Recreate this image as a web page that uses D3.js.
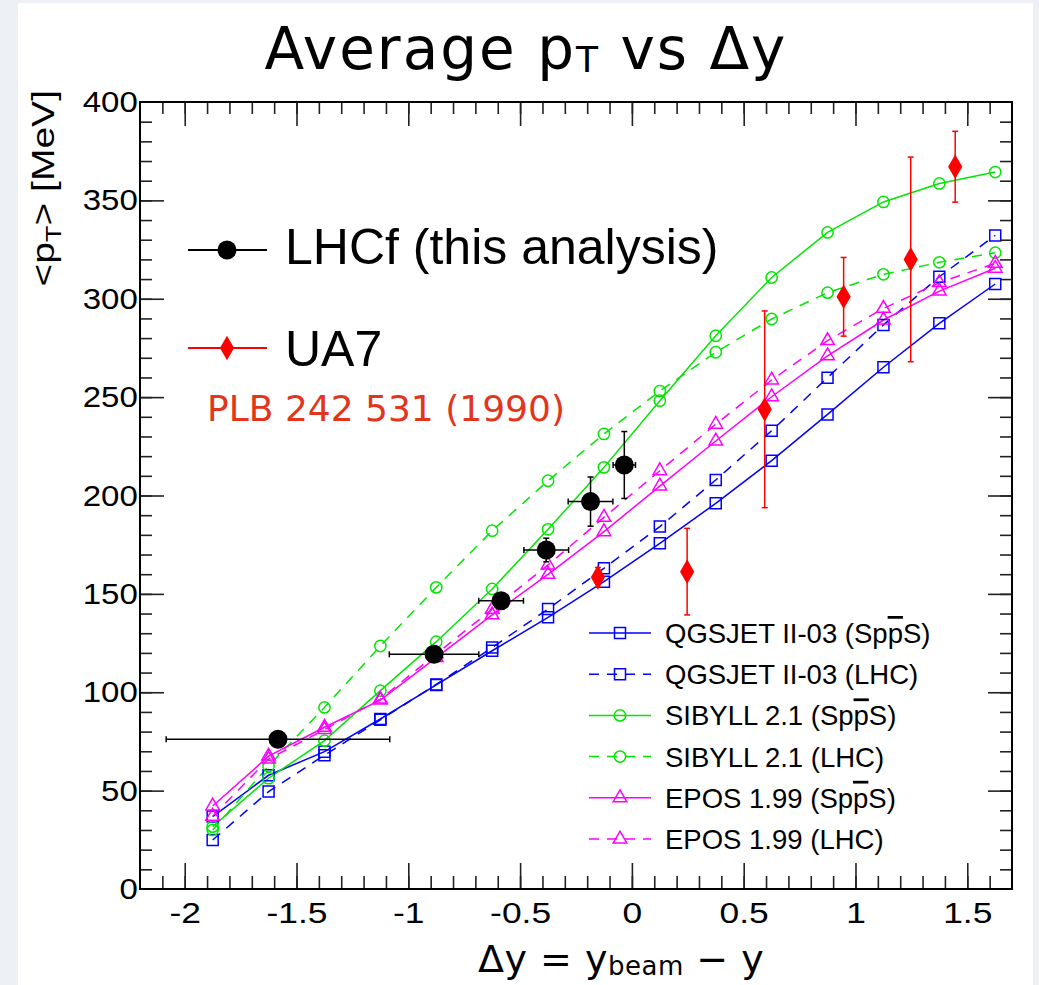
<!DOCTYPE html>
<html>
<head>
<meta charset="utf-8">
<script src="https://cdn.jsdelivr.net/npm/d3@7"></script>
<style>
  html, body { margin: 0; padding: 0; background: #edf0f4; }
  svg { display: block; }
  text { font-family: "Liberation Sans", Arial, Helvetica, sans-serif; }
</style>
</head>
<body>
<svg id="chart" width="1039" height="985"></svg>
<script>
// ---------------- DATA ----------------
const xTickValues = [-2, -1.5, -1, -0.5, 0, 0.5, 1, 1.5];
const xTickLabels = ["-2", "-1.5", "-1", "-0.5", "0", "0.5", "1", "1.5"];
const yTickValues = [0, 50, 100, 150, 200, 250, 300, 350, 400];
const yTickLabels = ["0", "50", "100", "150", "200", "250", "300", "350", "400"];

// model rapidity points
const modelX = [-1.875, -1.625, -1.375, -1.125, -0.875, -0.625, -0.375, -0.125, 0.125, 0.375, 0.625, 0.875, 1.125, 1.375, 1.625];
const qgsjetSppS = [36.8, 57.8, 69.8, 86.4, 103.7, 121.1, 138.1, 156.2, 175.7, 196.0, 217.7, 241.2, 265.2, 287.5, 307.5];
const qgsjetLHC  = [24.9, 49.5, 68.0, 86.0, 104.0, 122.7, 142.3, 163.0, 184.2, 207.9, 232.9, 259.9, 286.7, 311.2, 332.2];
const sibyllSppS = [31.7, 56.3, 75.4, 100.8, 125.7, 152.5, 182.8, 214.3, 248.2, 281.2, 310.8, 333.7, 349.2, 358.6, 364.4];
const sibyllLHC  = [30.0, 62.5, 92.3, 123.5, 153.3, 182.1, 207.5, 231.3, 253.1, 272.8, 289.7, 303.1, 312.4, 318.5, 323.4];
const eposSppS   = [42.2, 67.5, 82.2, 96.0, 117.6, 139.3, 159.9, 181.6, 204.8, 227.7, 250.2, 271.0, 289.2, 303.9, 315.5];
const eposLHC    = [37.0, 66.0, 81.0, 96.5, 119.5, 142.1, 164.7, 188.9, 212.6, 236.2, 258.7, 278.7, 295.1, 308.2, 318.0];

// LHCf (this analysis)
const lhcfX    = [-1.583, -0.885, -0.585, -0.383, -0.185, -0.034];
const lhcfY    = [76.1, 119.3, 146.5, 172.3, 196.9, 215.5];
const lhcfXErr = [0.5, 0.2, 0.1, 0.1, 0.1, 0.05];
const lhcfYErr = [2, 3, 4, 6, 12.5, 17];

// UA7 PLB 242 531 (1990)
const ua7X    = [-0.152, 0.247, 0.594, 0.947, 1.247, 1.446];
const ua7Y    = [158.4, 161.3, 243.8, 301.0, 320.0, 367.1];
const ua7YErr = [5, 22, 50, 20, 52, 18];

const modelNames = ["QGSJET II-03", "QGSJET II-03", "SIBYLL 2.1", "SIBYLL 2.1", "EPOS 1.99", "EPOS 1.99"];
const modelBeams = ["SppS", "LHC", "SppS", "LHC", "SppS", "LHC"];

// ---------------- LAYOUT ----------------
const svg = d3.select("#chart");
svg.append("rect").attr("x", 0).attr("y", 0).attr("width", 1039).attr("height", 985).attr("fill", "#edf0f4");
svg.append("rect").attr("x", 18).attr("y", 3).attr("width", 1015).attr("height", 982).attr("fill", "#ffffff");

const L = 140, R = 1012, T = 102, B = 889;
const x = d3.scaleLinear().domain([-2.2, 1.7]).range([L, R]);
const y = d3.scaleLinear().domain([0, 400]).range([B, T]);

const models = [
  { vals: qgsjetSppS, color: "#0000ff", dash: null,   sym: "square" },
  { vals: qgsjetLHC,  color: "#0000ff", dash: "10,8", sym: "square" },
  { vals: sibyllSppS, color: "#00e600", dash: null,   sym: "circle" },
  { vals: sibyllLHC,  color: "#00e600", dash: "10,8", sym: "circle" },
  { vals: eposSppS,   color: "#ff00ff", dash: null,   sym: "triangle" },
  { vals: eposLHC,    color: "#ff00ff", dash: "10,8", sym: "triangle" }
];
const symGen = {
  square: d3.symbol().type(d3.symbolSquare).size(121),
  circle: d3.symbol().type(d3.symbolCircle).size(100),
  triangle: d3.symbol().type(d3.symbolTriangle).size(80)
};
const diamond = d3.symbol().type(d3.symbolDiamond).size(175);

// ---------------- TITLE ----------------
const title = svg.append("text").attr("x", 526).attr("y", 69).attr("text-anchor", "middle")
  .style("font-family", "'DejaVu Sans', sans-serif").style("font-size", "58px").style("letter-spacing", "2px").attr("fill", "#000");
title.append("tspan").text("Average p");
title.append("tspan").text("T").style("font-size", "36px").attr("dy", 3);
title.append("tspan").text(" vs Δy").attr("dy", -3);

// ---------------- MODELS ----------------
const gModels = svg.append("g");
models.forEach(m => {
  const line = d3.line().x((d, i) => x(modelX[i])).y(d => y(d));
  gModels.append("path").datum(m.vals).attr("d", line).attr("fill", "none")
    .attr("stroke", m.color).attr("stroke-width", 1.5).attr("stroke-dasharray", m.dash);
});
models.forEach(m => {
  gModels.selectAll(null).data(m.vals).enter().append("path")
    .attr("d", symGen[m.sym])
    .attr("transform", (d, i) => `translate(${x(modelX[i])},${y(d)})`)
    .attr("fill", "none").attr("stroke", m.color).attr("stroke-width", 1.5);
});

// ---------------- UA7 ----------------
const gUA7 = svg.append("g");
ua7X.forEach((xv, i) => {
  const cx = x(xv), y1 = y(ua7Y[i] - ua7YErr[i]), y2 = y(ua7Y[i] + ua7YErr[i]);
  gUA7.append("line").attr("x1", cx).attr("x2", cx).attr("y1", y1).attr("y2", y2).attr("stroke", "#ff0000").attr("stroke-width", 1.5);
  [y1, y2].forEach(yy => gUA7.append("line").attr("x1", cx - 3).attr("x2", cx + 3).attr("y1", yy).attr("y2", yy).attr("stroke", "#ff0000").attr("stroke-width", 1.5));
});
gUA7.selectAll(null).data(ua7Y).enter().append("path").attr("d", diamond)
  .attr("transform", (d, i) => `translate(${x(ua7X[i])},${y(d)})`).attr("fill", "#ff0000");

// ---------------- LHCf ----------------
const gL = svg.append("g");
lhcfX.forEach((xv, i) => {
  const cx = x(xv), cy = y(lhcfY[i]);
  const xa = x(xv - lhcfXErr[i]), xb = x(xv + lhcfXErr[i]);
  const ya = y(lhcfY[i] - lhcfYErr[i]), yb = y(lhcfY[i] + lhcfYErr[i]);
  gL.append("line").attr("x1", xa).attr("x2", xb).attr("y1", cy).attr("y2", cy).attr("stroke", "#000").attr("stroke-width", 1.5);
  [xa, xb].forEach(xx => gL.append("line").attr("x1", xx).attr("x2", xx).attr("y1", cy - 3).attr("y2", cy + 3).attr("stroke", "#000").attr("stroke-width", 1.5));
  gL.append("line").attr("x1", cx).attr("x2", cx).attr("y1", ya).attr("y2", yb).attr("stroke", "#000").attr("stroke-width", 1.5);
  [ya, yb].forEach(yy => gL.append("line").attr("x1", cx - 3).attr("x2", cx + 3).attr("y1", yy).attr("y2", yy).attr("stroke", "#000").attr("stroke-width", 1.5));
});
gL.selectAll(null).data(lhcfY).enter().append("circle")
  .attr("cx", (d, i) => x(lhcfX[i])).attr("cy", d => y(d)).attr("r", 9.5).attr("fill", "#000");

// ---------------- AXES ----------------
const xMinor = x.ticks(40).filter(v => Math.abs(v - (-2.2)) > 1e-6 && Math.abs(v - 1.7) > 1e-6);
const yMinor = y.ticks(40).filter(v => v > 0 && v < 400);
function styleAxis(g) {
  g.select(".domain").remove();
  g.selectAll(".tick line").attr("stroke", "#222").attr("stroke-width", 1.6);
}
// bottom
svg.append("g").attr("transform", `translate(0,${B})`)
  .call(d3.axisBottom(x).tickValues(xMinor).tickSize(-13).tickFormat(""))
  .call(styleAxis);
svg.append("g").attr("transform", `translate(0,${B})`)
  .call(d3.axisBottom(x).tickValues(xTickValues).tickSize(-26).tickPadding(12.5).tickFormat((d, i) => xTickLabels[i]))
  .call(styleAxis)
  .call(g => g.selectAll("text").attr("fill", "#000").attr("transform", "scale(1.18,1)")
    .style("font-size", "30px").style("font-family", "'Liberation Sans', Arial, sans-serif"));
// top
svg.append("g").attr("transform", `translate(0,${T})`)
  .call(d3.axisTop(x).tickValues(xMinor).tickSize(-12).tickFormat("")).call(styleAxis);
svg.append("g").attr("transform", `translate(0,${T})`)
  .call(d3.axisTop(x).tickValues(xTickValues).tickSize(-24).tickFormat("")).call(styleAxis);
// left
svg.append("g").attr("transform", `translate(${L},0)`)
  .call(d3.axisLeft(y).tickValues(yMinor).tickSize(-12).tickFormat("")).call(styleAxis);
svg.append("g").attr("transform", `translate(${L},0)`)
  .call(d3.axisLeft(y).tickValues(yTickValues.filter(v => v > 0 && v < 400)).tickSize(-24).tickFormat("")).call(styleAxis);
svg.append("g").attr("transform", `translate(${L},0)`)
  .call(d3.axisLeft(y).tickValues(yTickValues).tickSize(0).tickPadding(2).tickFormat((d, i) => yTickLabels[i]))
  .call(styleAxis)
  .call(g => g.selectAll("text").attr("fill", "#000").attr("transform", "scale(1.1,1)")
    .style("font-size", "30px").style("font-family", "'Liberation Sans', Arial, sans-serif"));
// right
svg.append("g").attr("transform", `translate(${R},0)`)
  .call(d3.axisRight(y).tickValues(yMinor).tickSize(-12).tickFormat("")).call(styleAxis);
svg.append("g").attr("transform", `translate(${R},0)`)
  .call(d3.axisRight(y).tickValues(yTickValues.filter(v => v > 0 && v < 400)).tickSize(-24).tickFormat("")).call(styleAxis);
// frame
svg.append("rect").attr("x", L).attr("y", T).attr("width", R - L).attr("height", B - T)
  .attr("fill", "none").attr("stroke", "#000").attr("stroke-width", 2);

// axis titles
const xt = svg.append("text").attr("x", 478).attr("y", 972)
  .style("font-family", "'DejaVu Sans', sans-serif").style("font-size", "38px").style("letter-spacing", "0.5px").attr("fill", "#000");
xt.append("tspan").text("Δy = y");
xt.append("tspan").text("beam").style("font-size", "26px").attr("dy", 3);
xt.append("tspan").text(" − y").attr("dy", -3);

const yt = svg.append("text").attr("transform", "translate(54,90) rotate(-90) scale(1.22,1)").attr("text-anchor", "end")
  .style("font-size", "32px").attr("fill", "#000");
yt.append("tspan").text("<p");
yt.append("tspan").text("T").style("font-size", "22px").attr("dy", 7);
yt.append("tspan").text("> [MeV]").attr("dy", -7);

// ---------------- LEGEND 1 ----------------
const leg1 = svg.append("g");
leg1.append("line").attr("x1", 188).attr("x2", 267).attr("y1", 250).attr("y2", 250).attr("stroke", "#000").attr("stroke-width", 2);
leg1.append("circle").attr("cx", 227).attr("cy", 250).attr("r", 9.5).attr("fill", "#000");
leg1.append("text").attr("x", 285).attr("y", 264).style("font-size", "50px").attr("fill", "#000").text("LHCf (this analysis)");
leg1.append("line").attr("x1", 188).attr("x2", 267).attr("y1", 348).attr("y2", 348).attr("stroke", "#ff0000").attr("stroke-width", 2);
leg1.append("path").attr("d", diamond).attr("transform", "translate(227,348)").attr("fill", "#ff0000");
leg1.append("text").attr("x", 285).attr("y", 366).style("font-size", "50px").attr("fill", "#000").text("UA7");
leg1.append("text").attr("x", 207).attr("y", 421).style("font-family", "'DejaVu Sans', sans-serif")
  .style("font-size", "36px").attr("fill", "#e2361c").text("PLB 242 531 (1990)");

// ---------------- LEGEND 2 ----------------
const leg2 = svg.append("g");
const rowY = d3.scaleLinear().domain([0, 5]).range([633, 839]);
models.forEach((m, i) => {
  const yy = rowY(i);
  leg2.append("line").attr("x1", 589).attr("x2", 651).attr("y1", yy).attr("y2", yy)
    .attr("stroke", m.color).attr("stroke-width", 1.5).attr("stroke-dasharray", m.dash);
  leg2.append("path").attr("d", symGen[m.sym]).attr("transform", `translate(620,${yy})`)
    .attr("fill", "none").attr("stroke", m.color).attr("stroke-width", 1.5);
  const t = leg2.append("text").attr("x", 665).attr("y", yy + 10).style("font-size", "27.5px").attr("fill", "#000");
  if (modelBeams[i] === "SppS") {
    t.append("tspan").text(modelNames[i] + " (Sp");
    t.append("tspan").text("p").style("text-decoration", "overline");
    t.append("tspan").text("S)");
  } else {
    t.text(modelNames[i] + " (" + modelBeams[i] + ")");
  }
});
</script>
</body>
</html>
